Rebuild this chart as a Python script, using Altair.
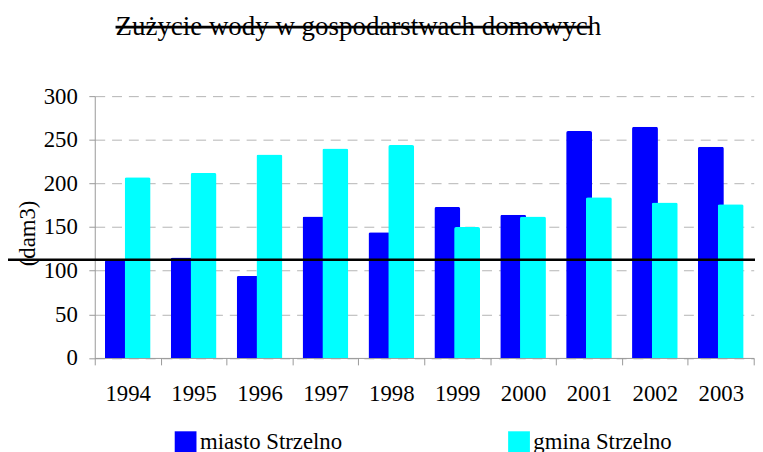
import altair as alt
import pandas as pd

# ---- data ----
years = ["1994", "1995", "1996", "1997", "1998", "1999", "2000", "2001", "2002", "2003"]
miasto = [112, 115, 94, 162, 144, 173, 164, 260, 265, 242]
gmina = [207, 212, 233, 240, 244, 150, 162, 184, 178, 176]
series_names = ["miasto Strzelno", "gmina Strzelno"]
series_colors = ["#0000ff", "#00ffff"]
reference_line = [112.6]
y_ticks = [0, 50, 100, 150, 200, 250, 300]
title_text = "Zużycie wody w gospodarstwach domowych"
y_title = "(dam3)"

df = pd.DataFrame({
    "year": years * 2,
    "value": miasto + gmina,
    "series": [series_names[0]] * len(years) + [series_names[1]] * len(years),
})

FONT = "Liberation Serif"
W, H = 666, 264.6
band = W / len(years)
bar_w = band * 0.393
off = band * 0.15

x_enc = alt.X(
    "year:N", sort=years,
    scale=alt.Scale(paddingInner=0, paddingOuter=0),
    axis=alt.Axis(title=None, labelAngle=0, tickBand="extent", tickSize=7,
                  tickColor="#999999", domainColor="#999999", grid=False,
                  labelFont=FONT, labelFontSize=23, labelColor="black",
                  labelBaseline="alphabetic", labelPadding=36),
)
y_axis = alt.Axis(values=y_ticks, grid=True, gridDash=[10, 7], gridColor="#b4b4b4",
                  domainColor="#999999", tickColor="#999999", tickSize=6,
                  labelPadding=11.7, labelFont=FONT, labelFontSize=23, labelColor="black",
                  title=y_title, titleFont=FONT, titleFontSize=23, titleFontWeight="normal",
                  titleColor="black", titleAngle=270, titleX=-68, titleY=138.3,
                  titleAlign="center", titleBaseline="middle")
y_enc = alt.Y("value:Q", scale=alt.Scale(domain=[0, 300], nice=False), axis=y_axis)

legend = alt.Legend(orient="none", legendX=80.3, legendY=338, direction="horizontal",
                    title=None, symbolType="square", symbolSize=484, symbolStrokeWidth=0,
                    labelFont=FONT, labelFontSize=23, labelColor="black", labelOffset=3,
                    columnPadding=167, padding=0)
color_enc = alt.Color("series:N", scale=alt.Scale(domain=series_names, range=series_colors),
                      legend=legend)

base = alt.Chart(df)
blue = base.transform_filter(alt.datum.series == series_names[0]).mark_bar(
    width=bar_w, xOffset=-off, cornerRadiusTopLeft=2, cornerRadiusTopRight=2
).encode(x=x_enc, y=y_enc, color=color_enc)
cyan = base.transform_filter(alt.datum.series == series_names[1]).mark_bar(
    width=bar_w, xOffset=off, cornerRadiusTopLeft=2, cornerRadiusTopRight=2
).encode(x=x_enc, y=y_enc, color=color_enc)

hline = alt.Chart(pd.DataFrame({"value": reference_line})).mark_rule(
    color="black", strokeWidth=2.5
).encode(y=y_enc, x=alt.value(-88), x2=alt.value(670))

title = alt.Chart(pd.DataFrame({"t": [title_text]})).mark_text(
    font=FONT, fontSize=27.2, align="left", baseline="alphabetic", color="black"
).encode(text="t:N", x=alt.value(21), y=alt.value(-62))

strike = alt.Chart(pd.DataFrame({"t": [title_text]})).mark_rule(
    color="black", strokeWidth=2.7
).encode(x=alt.value(21), x2=alt.value(502.3), y=alt.value(-69.7))

chart = alt.layer(blue, cyan, hline, title, strike).properties(
    width=W, height=H,
    autosize=alt.AutoSizeParams(type="none"),
    padding={"left": 87.7, "top": 86.7, "right": 1.3, "bottom": 92.7},
).configure_view(stroke=None)

chart.save("out.html", embed_options={"renderer": "svg", "actions": False})
